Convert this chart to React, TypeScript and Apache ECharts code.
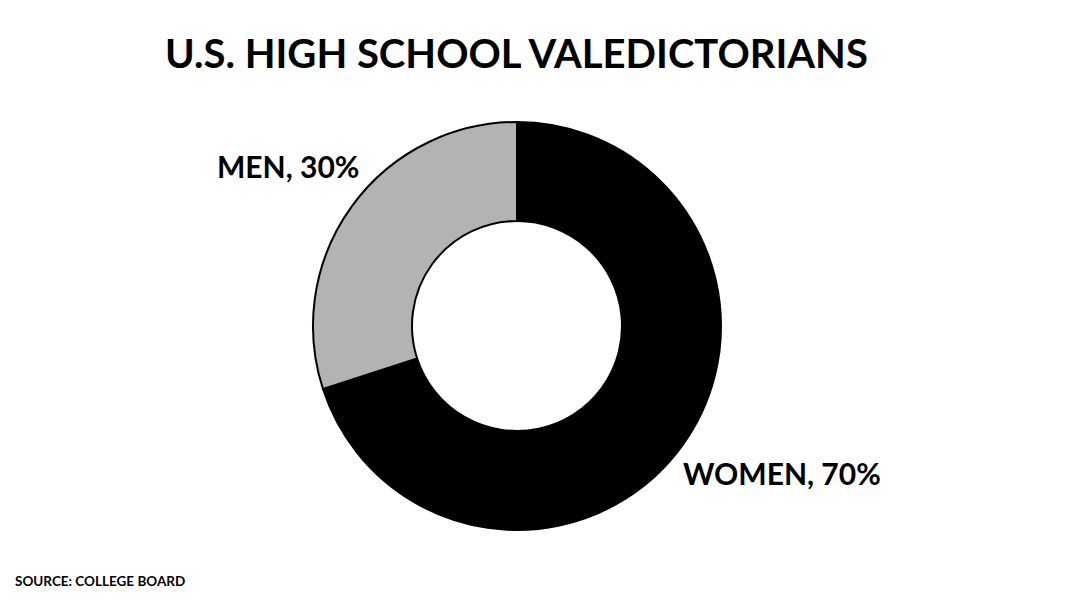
import React, { useEffect, useRef } from "react";
import * as echarts from "echarts";

const categories = ["WOMEN", "MEN"];
const values = [70, 30];
const colors = ["#000000", "#b3b3b3"];
const titleText = "U.S. HIGH SCHOOL VALEDICTORIANS";
const sourceText = "SOURCE: COLLEGE BOARD";

const FONT = "'Humor Sans', 'xkcd Script', 'Comic Sans MS', Lato, 'DejaVu Sans', sans-serif";

export default function App() {
  const ref = useRef<HTMLDivElement>(null);
  useEffect(() => {
    document.body.style.margin = "0";
    const chart = echarts.init(ref.current!, null, { renderer: "svg" });
    const labelPos: Record<string, { x: number; y: number; align: string }> = {
      MEN: { x: 217, y: 166, align: "left" },
      WOMEN: { x: 683, y: 473, align: "left" },
    };
    chart.setOption({
      animation: false,
      backgroundColor: "#ffffff",
      title: {
        text: titleText,
        left: 160,
        top: 28,
        textStyle: { fontFamily: FONT, fontSize: 40, fontWeight: "bold", color: "#000" },
      },
      graphic: [
        {
          type: "text",
          left: 15,
          top: 574,
          style: { text: sourceText, font: `bold 13.5px ${FONT}`, fill: "#000" },
        },
      ],
      series: [
        {
          type: "pie",
          center: [517, 326],
          radius: [105, 204],
          startAngle: 90,
          clockwise: true,
          data: categories.map((c, i) => ({
            name: c,
            value: values[i],
            itemStyle: { color: colors[i] },
          })),
          itemStyle: { borderColor: "#000", borderWidth: 2 },
          label: {
            show: true,
            position: "outside",
            formatter: (p: any) => `${p.name}, ${p.value}%`,
            fontFamily: FONT,
            fontSize: 30,
            fontWeight: "bold",
            color: "#000",
          },
          labelLine: { show: false },
          labelLayout: (params: any) => {
            const name = categories[params.dataIndex];
            const p = labelPos[name];
            return { x: p.x, y: p.y, align: p.align, verticalAlign: "middle" };
          },
          emphasis: { disabled: true },
        },
      ],
    });
    return () => chart.dispose();
  }, []);
  return <div ref={ref} style={{ width: 1065, height: 600 }} />;
}
